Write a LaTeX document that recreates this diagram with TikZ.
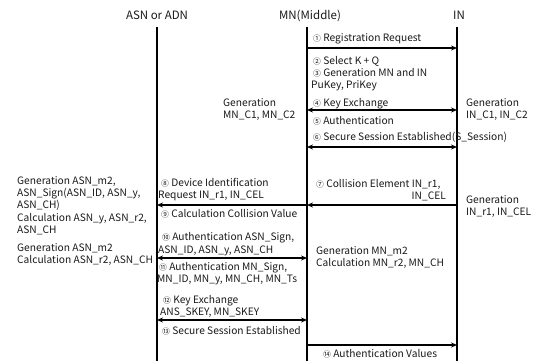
\documentclass[tikz,border=0pt]{standalone}
\usepackage{fontspec}
\setmainfont{Noto Sans CJK KR}
\usetikzlibrary{arrows.meta}
\newcommand\lblfont{\fontsize{10.2}{12}\selectfont}
\newcommand\cn[1]{{\fontsize{7.8}{8}\selectfont #1}}
\tikzset{
  life/.style={line width=1.4pt},
  msg/.style={line width=1.3pt,-{Stealth[length=6pt,width=5pt]}},
  msgb/.style={line width=1.3pt,{Stealth[length=6pt,width=5pt]}-{Stealth[length=6pt,width=5pt]}},
  lbl/.style={anchor=base west,inner sep=0pt,font=\lblfont,text=black!90},
  lblr/.style={anchor=base east,inner sep=0pt,font=\lblfont,text=black!90},
  head/.style={anchor=base,inner sep=0pt,font=\fontsize{11.5}{13}\selectfont,text=black!90}
}
\begin{document}
\begin{tikzpicture}[x=1pt,y=-1pt]
\useasboundingbox (0,0) rectangle (537,361);
% headers
\node[head] (hA) at (157,20) {ASN or ADN};
\node[head] (hM) at (310,20) {MN(Middle)};
\node[head] (hI) at (459,20) {IN};
% lifelines
\coordinate (At) at (157,27); \coordinate (Ab) at (157,361);
\coordinate (Mt) at (307,27); \coordinate (Mb) at (307,361);
\coordinate (It) at (457,27); \coordinate (Ib) at (457,361);
\draw[life] (At) -- (Ab);
\draw[life] (Mt) -- (Mb);
\draw[life] (It) -- (Ib);
% message end points
\foreach \n/\y in {1/48,4/110,6/147,7/205,10/258,12/320,14/345}{
  \coordinate (A\n) at (157,\y);
  \coordinate (M\n) at (307,\y);
  \coordinate (I\n) at (457,\y);
}
\draw[msg] (M1) -- (I1);
\draw[msgb] (M4) -- (I4);
\draw[msgb] (M6) -- (I6);
\draw[msg] (I7) -- (M7);
\draw[msg] (M7) -- (A7);
\draw[msgb] (A10) -- (M10);
\draw[msgb] (A12) -- (M12);
\draw[msg] (M14) -- (I14);
% MN-IN labels
\node[lbl] (t1) at (313,41.5) {\cn{①} Registration Request};
\node[lbl] (t2) at (313,64.5) {\cn{②} Select K + Q};
\node[lbl] (t3) at (313,76.5) {\cn{③} Generation MN and IN};
\node[lbl] (t3b) at (311,88.5) {PuKey, PriKey};
\node[lbl] (t4) at (313,106.5) {\cn{④} Key Exchange};
\node[lbl] (t5) at (313,124.5) {\cn{⑤} Authentication};
\node[lbl] (t6) at (313,140.5) {\cn{⑥} Secure Session Established(S\_Session)};
\node[lbl] (gm1) at (223,106.5) {Generation};
\node[lbl] (gm2) at (223,118.5) {MN\_C1, MN\_C2};
\node[lbl] (gi1) at (466,106.5) {Generation};
\node[lbl] (gi2) at (466,118.5) {IN\_C1, IN\_C2};
\node[lbl] (t7) at (316,187.5) {\cn{⑦} Collision Element IN\_r1,};
\node[lblr] (t7b) at (446,199.5) {IN\_CEL};
\node[lbl] (gr1) at (466,203.5) {Generation};
\node[lbl] (gr2) at (466,215.5) {IN\_r1, IN\_CEL};
% ASN-MN labels
\node[lbl] (t8) at (161,186.5) {\cn{⑧} Device Identification};
\node[lbl] (t8b) at (158,198.5) {Request IN\_r1, IN\_CEL};
\node[lbl] (t9) at (161,217.5) {\cn{⑨} Calculation Collision Value};
\node[lbl] (t10) at (162,240.5) {\cn{⑩} Authentication ASN\_Sign,};
\node[lbl] (t10b) at (158,253.5) {ASN\_ID, ASN\_y, ASN\_CH};
\node[lbl] (t11) at (159,270.5) {\cn{⑪} Authentication MN\_Sign,};
\node[lbl] (t11b) at (157,282.5) {MN\_ID, MN\_y, MN\_CH, MN\_Ts};
\node[lbl] (t12) at (163,303.5) {\cn{⑫} Key Exchange};
\node[lbl] (t12b) at (160,315.5) {ANS\_SKEY, MN\_SKEY};
\node[lbl] (t13) at (162,334.5) {\cn{⑬} Secure Session Established};
\node[lbl] (t14) at (323,357.5) {\cn{⑭} Authentication Values};
% left side
\node[lbl] (l1) at (17,184.5) {Generation ASN\_m2,};
\node[lbl] (l2) at (17,196.5) {ASN\_Sign(ASN\_ID, ASN\_y,};
\node[lbl] (l3) at (17,208.5) {ASN\_CH)};
\node[lbl] (l4) at (17,221.5) {Calculation ASN\_y, ASN\_r2,};
\node[lbl] (l5) at (17,233.5) {ASN\_CH};
\node[lbl] (l6) at (17,251.5) {Generation ASN\_m2};
\node[lbl] (l7) at (17,263.5) {Calculation ASN\_r2, ASN\_CH};
% MN right side
\node[lbl] (gmm1) at (316,254.5) {Generation MN\_m2};
\node[lbl] (gmm2) at (316,266.5) {Calculation MN\_r2, MN\_CH};
\end{tikzpicture}
\end{document}
